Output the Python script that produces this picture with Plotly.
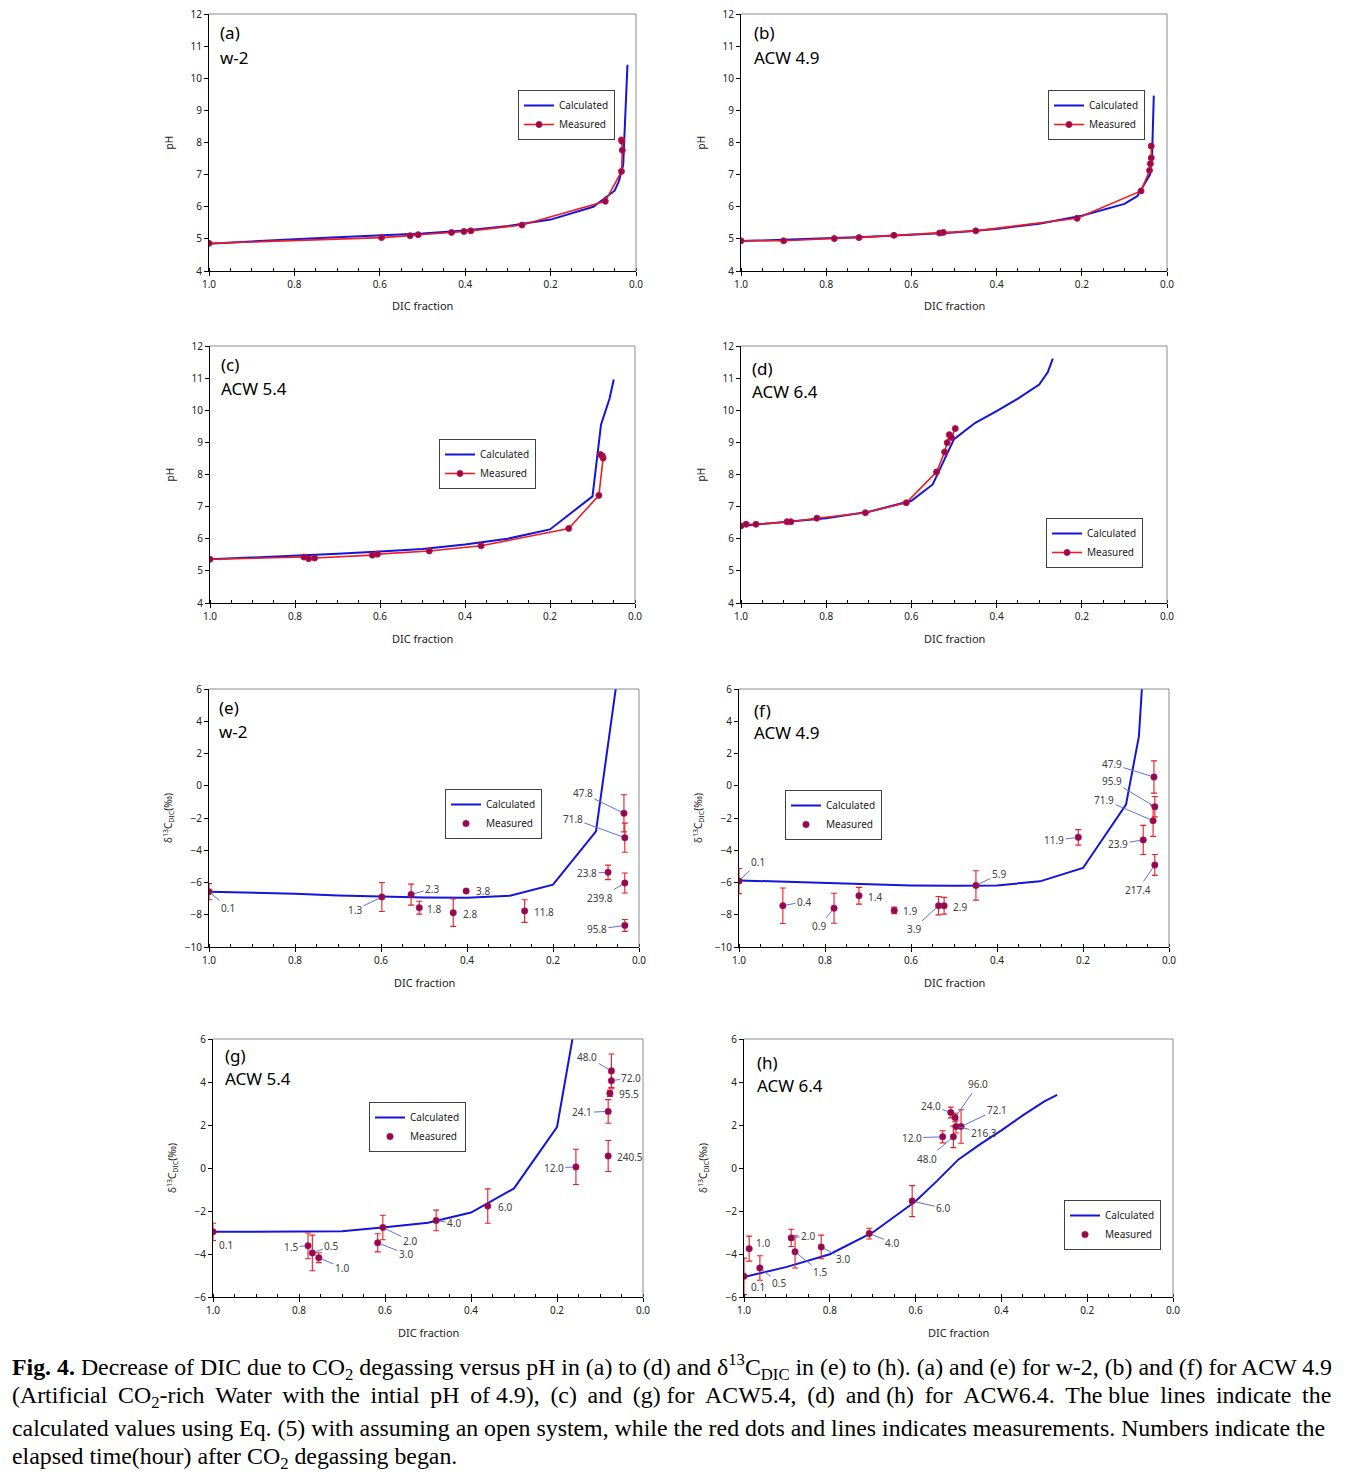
import plotly.graph_objects as go

W, H = 1348, 1475
PAGE = 8  # the html body margin that shifts the figure in the page

# ---------------- data ----------------
# (a) w-2 : pH
a_calc_f = [1.0, 0.9, 0.8, 0.7, 0.6, 0.5, 0.4, 0.3, 0.2, 0.1, 0.05, 0.04, 0.03, 0.028, 0.02]
a_calc_ph = [4.85, 4.93, 4.99, 5.05, 5.10, 5.17, 5.26, 5.40, 5.60, 6.00, 6.50, 6.80, 7.30, 8.00, 10.42]
a_meas_f = [1.0, 0.596, 0.529, 0.510, 0.432, 0.403, 0.387, 0.267, 0.072, 0.034, 0.032, 0.034, 0.033]
a_meas_ph = [4.86, 5.04, 5.10, 5.13, 5.20, 5.23, 5.25, 5.43, 6.17, 7.10, 7.76, 8.08, 8.04]

# (b) ACW 4.9 : pH
b_calc_f = [1.0, 0.9, 0.8, 0.7, 0.6, 0.5, 0.4, 0.3, 0.2, 0.1, 0.07, 0.05, 0.04, 0.035, 0.031]
b_calc_ph = [4.93, 4.97, 5.02, 5.07, 5.13, 5.20, 5.31, 5.47, 5.72, 6.09, 6.33, 6.75, 7.00, 7.60, 9.46]
b_meas_f = [1.0, 0.90, 0.781, 0.723, 0.641, 0.534, 0.525, 0.449, 0.211, 0.061, 0.041, 0.039, 0.037, 0.037]
b_meas_ph = [4.94, 4.94, 5.01, 5.04, 5.11, 5.18, 5.20, 5.25, 5.64, 6.49, 7.13, 7.34, 7.52, 7.89]

# (c) ACW 5.4 : pH
c_calc_f = [1.0, 0.9, 0.8, 0.7, 0.6, 0.5, 0.4, 0.3, 0.2, 0.1, 0.08, 0.06, 0.05]
c_calc_ph = [5.36, 5.41, 5.47, 5.53, 5.60, 5.68, 5.82, 6.00, 6.29, 7.32, 9.55, 10.36, 10.96]
c_meas_f = [1.0, 0.779, 0.768, 0.754, 0.618, 0.606, 0.484, 0.362, 0.156, 0.085, 0.075, 0.077, 0.081]
c_meas_ph = [5.36, 5.43, 5.38, 5.40, 5.49, 5.52, 5.62, 5.78, 6.32, 7.35, 8.51, 8.58, 8.62]

# (d) ACW 6.4 : pH
d_calc_f = [1.0, 0.9, 0.8, 0.7, 0.6, 0.55, 0.5, 0.45, 0.4, 0.35, 0.3, 0.28, 0.268]
d_calc_ph = [6.40, 6.52, 6.64, 6.84, 7.18, 7.69, 9.10, 9.61, 9.97, 10.36, 10.80, 11.18, 11.61]
d_meas_f = [1.0, 0.988, 0.965, 0.892, 0.883, 0.822, 0.708, 0.612, 0.541, 0.522, 0.516, 0.511, 0.506, 0.497]
d_meas_ph = [6.40, 6.45, 6.45, 6.53, 6.53, 6.64, 6.81, 7.12, 8.08, 8.70, 8.99, 9.24, 9.15, 9.43]

# (e) w-2 : d13C-DIC
e_calc_f = [1.0, 0.9, 0.8, 0.7, 0.6, 0.5, 0.4, 0.3, 0.2, 0.1, 0.05]
e_calc_d = [-6.57, -6.62, -6.70, -6.80, -6.88, -6.93, -6.95, -6.82, -6.13, -2.83, 6.8]
e_meas_f = [1.0, 0.598, 0.530, 0.511, 0.432, 0.402, 0.266, 0.072, 0.035, 0.033, 0.033, 0.033]
e_meas_d = [-6.57, -6.90, -6.75, -7.56, -7.87, -6.53, -7.77, -5.37, -1.71, -3.22, -6.03, -8.66]
e_err = [0.5, 0.9, 0.65, 0.4, 0.85, 0.0, 0.7, 0.45, 1.15, 0.9, 0.62, 0.37]
e_hours = ["0.1", "1.3", "2.3", "1.8", "2.8", "3.8", "11.8", "23.8", "47.8", "71.8", "239.8", "95.8"]

# (f) ACW 4.9 : d13C-DIC
f_calc_f = [1.0, 0.9, 0.8, 0.7, 0.6, 0.5, 0.4, 0.3, 0.2, 0.1, 0.07, 0.06]
f_calc_d = [-5.87, -5.95, -6.02, -6.10, -6.18, -6.20, -6.18, -5.93, -5.10, -1.17, 3.06, 7.3]
f_meas_f = [1.0, 0.898, 0.779, 0.721, 0.639, 0.536, 0.523, 0.449, 0.211, 0.06, 0.035, 0.033, 0.037, 0.033]
f_meas_d = [-5.91, -7.44, -7.60, -6.82, -7.73, -7.44, -7.44, -6.18, -3.20, -3.36, 0.54, -1.30, -2.17, -4.91]
f_err = [0.78, 1.1, 0.93, 0.52, 0.2, 0.57, 0.52, 0.91, 0.48, 0.9, 1.0, 0.63, 0.97, 0.65]
f_hours = ["0.1", "0.4", "0.9", "1.4", "1.9", "3.9", "2.9", "5.9", "11.9", "23.9", "47.9", "95.9", "71.9", "217.4"]

# (g) ACW 5.4 : d13C-DIC
g_calc_f = [1.0, 0.9, 0.8, 0.7, 0.6, 0.5, 0.4, 0.3, 0.2, 0.15]
g_calc_d = [-2.97, -2.97, -2.96, -2.94, -2.76, -2.55, -2.07, -0.95, 1.90, 7.6]
g_meas_f = [1.0, 0.779, 0.769, 0.754, 0.605, 0.617, 0.481, 0.361, 0.156, 0.081, 0.0735, 0.0735, 0.077, 0.081]
g_meas_d = [-2.97, -3.62, -3.95, -4.17, -2.77, -3.48, -2.44, -1.77, 0.05, 2.63, 4.52, 4.06, 3.48, 0.56]
g_err = [0.4, 0.6, 0.83, 0.23, 0.57, 0.42, 0.48, 0.8, 0.82, 0.55, 0.78, 0.35, 0.15, 0.72]
g_hours = ["0.1", "1.5", "0.5", "1.0", "2.0", "3.0", "4.0", "6.0", "12.0", "24.1", "48.0", "72.0", "95.5", "240.5"]

# (h) ACW 6.4 : d13C-DIC
h_calc_f = [1.0, 0.9, 0.8, 0.7, 0.6, 0.55, 0.5, 0.45, 0.4, 0.35, 0.3, 0.27]
h_calc_d = [-5.07, -4.60, -4.01, -3.00, -1.55, -0.60, 0.40, 1.10, 1.75, 2.45, 3.10, 3.40]
h_meas_f = [1.0, 0.988, 0.963, 0.890, 0.881, 0.820, 0.708, 0.608, 0.537, 0.518, 0.508, 0.494, 0.506, 0.512]
h_meas_d = [-5.04, -3.75, -4.65, -3.25, -3.90, -3.67, -3.05, -1.54, 1.45, 2.58, 2.35, 1.93, 1.93, 1.45]
h_err = [0.85, 0.58, 0.57, 0.4, 0.75, 0.55, 0.25, 0.72, 0.28, 0.25, 0.2, 0.78, 0.3, 0.5]
h_hours = ["0.1", "1.0", "0.5", "2.0", "1.5", "3.0", "4.0", "6.0", "12.0", "24.0", "96.0", "72.1", "216.3", "48.0"]

# ---------------- label placement (pixels from the point) ----------------
e_lab_dx = [19, -27, 21, 15, 17, 17, 19, -21, -41, -52, -25, -28]
e_lab_dy = [16, 13, -6, 1, 1, 0, 1, 1, -20, -19, 15, 4]
e_leader = [1, 1, 1, 0, 0, 0, 0, 1, 1, 1, 1, 1]
f_lab_dx = [19, 21, -15, 16, 16, -25, 16, 23, -24, -25, -42, -43, -49, -17]
f_lab_dy = [-19, -4, 18, 1, 1, 23, 1, -11, 3, 4, -13, -26, -21, 25]
f_leader = [1, 1, 1, 0, 0, 1, 0, 1, 1, 1, 1, 1, 1, 1]
g_lab_dx = [13, -17, 19, 23, 27, 28, 18, 17, -22, -26, -24, 20, 19, 22]
g_lab_dy = [13, 1, -7, 10, 13, 11, 3, 1, 1, 1, -14, -3, 1, 1]
g_leader = [0, 1, 1, 1, 1, 1, 1, 0, 1, 1, 1, 1, 0, 0]
h_lab_dx = [14, 14, 19, 17, 25, 22, 23, 31, -31, -20, 23, 36, 28, -26]
h_lab_dy = [11, -6, 15, -2, 20, 12, 9, 7, 1, -7, -33, -17, 6, 22]
h_leader = [0, 0, 1, 1, 1, 1, 1, 1, 1, 1, 1, 1, 1, 1]

BLUE = "#1414DC"
RED = "#EE1C24"
MARK = "#8E0B52"
LEAD = "#5C70E0"
FONT = "Noto Sans"

FW, FH = W - PAGE, H - PAGE


def fx(v):
    return (v - PAGE) / FW


def fy(v):
    return 1 - (v - PAGE) / FH


panels = [
    dict(tag="(a)", name="w-2", box=(209, 14, 636, 271), lab=(218, 32, 57), leg=(518, 90), ph=True,
         cf=a_calc_f, cy=a_calc_ph, mf=a_meas_f, my=a_meas_ph),
    dict(tag="(b)", name="ACW 4.9", box=(741, 14, 1167, 271), lab=(752, 33, 57), leg=(1048, 90), ph=True,
         cf=b_calc_f, cy=b_calc_ph, mf=b_meas_f, my=b_meas_ph),
    dict(tag="(c)", name="ACW 5.4", box=(210, 346, 635, 603), lab=(219, 365, 388), leg=(439, 439), ph=True,
         cf=c_calc_f, cy=c_calc_ph, mf=c_meas_f, my=c_meas_ph),
    dict(tag="(d)", name="ACW 6.4", box=(741, 346, 1167, 603), lab=(750, 368, 392), leg=(1046, 518), ph=True,
         cf=d_calc_f, cy=d_calc_ph, mf=d_meas_f, my=d_meas_ph),
    dict(tag="(e)", name="w-2", box=(209, 689, 639, 947), lab=(217, 707, 731), leg=(445, 789), ph=False,
         rng=[-10, 6], cf=e_calc_f, cy=e_calc_d, mf=e_meas_f, my=e_meas_d, err=e_err,
         hours=e_hours, dx=e_lab_dx, dy=e_lab_dy, lead=e_leader),
    dict(tag="(f)", name="ACW 4.9", box=(739, 689, 1169, 947), lab=(752, 710, 733), leg=(785, 790), ph=False,
         rng=[-10, 6], cf=f_calc_f, cy=f_calc_d, mf=f_meas_f, my=f_meas_d, err=f_err,
         hours=f_hours, dx=f_lab_dx, dy=f_lab_dy, lead=f_leader),
    dict(tag="(g)", name="ACW 5.4", box=(213, 1039, 643, 1297), lab=(223, 1055, 1078), leg=(369, 1102), ph=False,
         rng=[-6, 6], cf=g_calc_f, cy=g_calc_d, mf=g_meas_f, my=g_meas_d, err=g_err,
         hours=g_hours, dx=g_lab_dx, dy=g_lab_dy, lead=g_leader),
    dict(tag="(h)", name="ACW 6.4", box=(744, 1039, 1173, 1297), lab=(755, 1062, 1085), leg=(1064, 1200), ph=False,
         rng=[-6, 6], cf=h_calc_f, cy=h_calc_d, mf=h_meas_f, my=h_meas_d, err=h_err,
         hours=h_hours, dx=h_lab_dx, dy=h_lab_dy, lead=h_leader),
]

fig = go.Figure()
annotations = []
shapes = []
layout = {}

for i, p in enumerate(panels, start=1):
    sfx = "" if i == 1 else str(i)
    xr, yr = "x" + sfx, "y" + sfx
    leg = "legend" + sfx
    x0, y0, x1, y1 = p["box"]

    fig.add_trace(go.Scatter(
        x=p["cf"], y=p["cy"], mode="lines", name="Calculated",
        line=dict(color=BLUE, width=2), xaxis=xr, yaxis=yr, legend=leg))
    if p["ph"]:
        fig.add_trace(go.Scatter(
            x=p["mf"], y=p["my"], mode="lines+markers", name="Measured",
            line=dict(color=RED, width=1.6),
            marker=dict(size=6, color=MARK, line=dict(color="#D0103C", width=1)),
            xaxis=xr, yaxis=yr, legend=leg))
    else:
        fig.add_trace(go.Scatter(
            x=p["mf"], y=p["my"], mode="markers", name="Measured",
            marker=dict(size=6.5, color=MARK, line=dict(color="#C0104A", width=0.5)),
            error_y=dict(type="data", array=p["err"], color=RED, thickness=1.1, width=3),
            xaxis=xr, yaxis=yr, legend=leg))
        for xv, yv, t, dx, dy, ld in zip(p["mf"], p["my"], p["hours"], p["dx"], p["dy"], p["lead"]):
            if ld:
                annotations.append(dict(
                    x=xv, y=yv, xref=xr, yref=yr, text=t, showarrow=True, ax=dx, ay=dy,
                    arrowhead=0, arrowwidth=1, arrowcolor=LEAD, standoff=3,
                    font=dict(family=FONT, size=10, color="#404040")))
            else:
                annotations.append(dict(
                    x=xv, y=yv, xref=xr, yref=yr, text=t, showarrow=False,
                    xshift=dx, yshift=-dy, font=dict(family=FONT, size=10, color="#404040")))

    layout["xaxis" + sfx] = dict(
        domain=[fx(x0), fx(x1)], anchor=yr, range=[1.0, 0.0], dtick=0.2, tickformat=".1f",
        showgrid=False, zeroline=False, showline=True, linecolor="#000000", linewidth=1,
        ticks="outside", ticklen=4, tickcolor="#000000", automargin=False,
        ticklabeloverflow="allow",
        minor=dict(dtick=0.05, ticks="inside", ticklen=3, tickcolor="#000000", showgrid=False),
        tickfont=dict(family=FONT, size=10, color="#222222"))
    if p["ph"]:
        yax = dict(range=[4, 12], dtick=1)
    else:
        yax = dict(range=p["rng"], dtick=2)
    layout["yaxis" + sfx] = dict(
        domain=[fy(y1), fy(y0)], anchor=xr, showgrid=False, zeroline=False,
        showline=True, linecolor="#000000", linewidth=1, automargin=False,
        ticks="outside", ticklen=4, tickcolor="#000000", ticklabeloverflow="allow",
        tickfont=dict(family=FONT, size=10, color="#222222"), **yax)
    layout[leg] = dict(
        x=fx(p["leg"][0]), y=fy(p["leg"][1]), xanchor="left", yanchor="top",
        bgcolor="#FFFFFF", bordercolor="#404040", borderwidth=1,
        font=dict(family=FONT, size=10, color="#222222"),
        itemwidth=30, tracegroupgap=0)

    # grey top/right border of the plot area
    shapes.append(dict(type="line", xref="paper", yref="paper", x0=fx(x0), x1=fx(x1),
                       y0=fy(y0), y1=fy(y0), line=dict(color="#8C8C8C", width=1)))
    shapes.append(dict(type="line", xref="paper", yref="paper", x0=fx(x1), x1=fx(x1),
                       y0=fy(y0), y1=fy(y1), line=dict(color="#8C8C8C", width=1)))

    # panel tag and sample name
    annotations.append(dict(x=fx(p["lab"][0]), y=fy(p["lab"][1]), xref="paper", yref="paper",
                            text=p["tag"], showarrow=False, xanchor="left", yanchor="middle",
                            font=dict(family=FONT, size=17, color="#000000")))
    annotations.append(dict(x=fx(p["lab"][0]), y=fy(p["lab"][2]), xref="paper", yref="paper",
                            text=p["name"], showarrow=False, xanchor="left", yanchor="middle",
                            font=dict(family=FONT, size=17, color="#000000")))

    # axis titles
    annotations.append(dict(x=fx((x0 + x1) / 2), y=fy(y1 + 35), xref="paper", yref="paper",
                            text="DIC fraction", showarrow=False, xanchor="center", yanchor="middle",
                            font=dict(family=FONT, size=11, color="#222222")))
    ytitle = "pH" if p["ph"] else "δ<sup>13</sup>C<sub>DIC</sub>(‰)"
    annotations.append(dict(x=fx(x0 - 41), y=fy((y0 + y1) / 2), xref="paper", yref="paper",
                            text=ytitle, showarrow=False, textangle=-90, xanchor="center",
                            yanchor="middle", font=dict(family=FONT, size=10, color="#222222")))

# caption; line 2 gets thin spaces in most gaps to imitate the justified block
line2_words = ("(Artificial CO<sub>2</sub>-rich Water with the intial pH of 4.9), (c) and (g) for ACW5.4, "
               "(d) and (h) for ACW6.4. The blue lines indicate the").split(" ")
line2 = line2_words[0]
for k, w in enumerate(line2_words[1:]):
    line2 += (" " if k % 4 == 3 else " \u2009") + w
caption = [
    "<b>Fig. 4.</b> Decrease of DIC due to CO<sub>2</sub> degassing versus pH in (a) to (d) and "
    "δ<sup>13</sup>C<sub>DIC</sub> in (e) to (h). (a) and (e) for w-2, (b) and (f) for ACW 4.9",
    line2,
    "calculated values using Eq. (5) with assuming an open system, while the red dots and lines "
    "indicates measurements. Numbers indicate the",
    "elapsed time(hour) after CO<sub>2</sub> degassing began.",
]
cap_y = [1367, 1397, 1428, 1458]
for t, yv in zip(caption, cap_y):
    annotations.append(dict(x=fx(10), y=fy(yv), xref="paper", yref="paper", text=t,
                            showarrow=False, xanchor="left", yanchor="middle",
                            font=dict(family="Liberation Serif", size=23.85, color="#000000")))

fig.update_layout(
    width=FW, height=FH, autosize=False,
    margin=dict(l=0, r=0, t=0, b=0, autoexpand=False),
    paper_bgcolor="#FFFFFF", plot_bgcolor="#FFFFFF",
    annotations=annotations, shapes=shapes, **layout)

fig.write_html("out.html")
